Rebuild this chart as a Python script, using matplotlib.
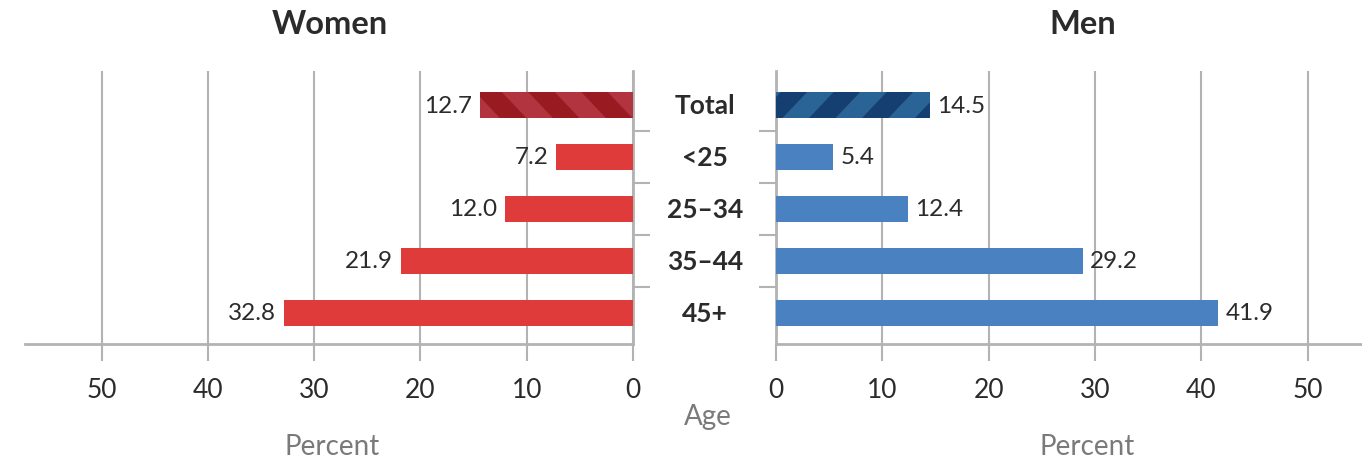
import matplotlib
matplotlib.use("Agg")
import matplotlib.pyplot as plt
from matplotlib.patches import Polygon
from matplotlib.transforms import IdentityTransform

plt.rcParams['font.family'] = ['Lato', 'DejaVu Sans']

categories = ['Total', '<25', '25–34', '35–44', '45+']
women_values = [14.4, 7.2, 12.0, 21.85, 32.8]
women_labels = ['12.7', '7.2', '12.0', '21.9', '32.8']
men_values = [14.45, 5.4, 12.4, 28.85, 41.6]
men_labels = ['14.5', '5.4', '12.4', '29.2', '41.9']
x_ticks = [0, 10, 20, 30, 40, 50]

W, H = 1362, 460
fig = plt.figure(figsize=(W / 100, H / 100), dpi=100)

grid_c = '#b3b3b3'
text_c = '#2b2b2b'
gray_c = '#7a7a7a'

def fx(px):
    return px / W

def fy(py):
    return 1 - py / H

top, bot = 72, 345
axL = fig.add_axes([fx(25), fy(bot), fx(633 - 25), (bot - top) / H])
axR = fig.add_axes([fx(776), fy(bot), fx(1362 - 776), (bot - top) / H])

pos = list(range(len(categories)))

barsL = axL.barh(pos, women_values, height=0.5, color='#df3b3b', zorder=3)
barsR = axR.barh(pos, men_values, height=0.5, color='#4a81c0', zorder=3)
barsL[0].set_facecolor('#b1343f')
barsR[0].set_facecolor('#2a6496')

axL.set_xlim(57.2, 0)
axR.set_xlim(0, 55.1)
for ax in (axL, axR):
    ax.set_ylim(4.6, -0.655)
    ax.set_xticks(x_ticks)
    ax.set_xticklabels([str(t) for t in x_ticks], fontsize=19, color=text_c)
    ax.grid(axis='x', color=grid_c, linewidth=1.5, zorder=0)
    ax.set_yticks([0.5, 1.5, 2.5, 3.5])
    ax.set_yticklabels([])
    ax.tick_params(axis='x', length=12, width=1.5, color=grid_c, pad=12)
    ax.tick_params(axis='y', length=12, width=1.5, color=grid_c)
    for s in ax.spines.values():
        s.set_color(grid_c)
        s.set_linewidth(2)
    ax.spines['top'].set_visible(False)

axL.spines['left'].set_visible(False)
axL.yaxis.tick_right()
axR.spines['right'].set_visible(False)
axR.yaxis.tick_left()

for i, (v, lab) in enumerate(zip(women_values, women_labels)):
    axL.annotate(lab, (v, i), xytext=(-6, 0), textcoords='offset points',
                 ha='right', va='center', fontsize=17.5, color=text_c)
for i, (v, lab) in enumerate(zip(men_values, men_labels)):
    axR.annotate(lab, (v, i), xytext=(5, 0), textcoords='offset points',
                 ha='left', va='center', fontsize=17.5, color=text_c)

# category labels centred between the two panels
for i, c in enumerate(categories):
    axL.annotate(c, (0, i), xycoords=('data', 'data'), xytext=(fx(705), 0),
                 textcoords=('figure fraction', 'offset points'),
                 ha='center', va='center', fontsize=19, fontweight='bold', color=text_c)

fig.text(fx(330), fy(25), 'Women', ha='center', va='center', fontsize=23.5, fontweight='bold', color=text_c)
fig.text(fx(1083), fy(25), 'Men', ha='center', va='center', fontsize=23.5, fontweight='bold', color=text_c)
fig.text(fx(332), fy(447), 'Percent', ha='center', va='center', fontsize=20, color=gray_c)
fig.text(fx(1087), fy(447), 'Percent', ha='center', va='center', fontsize=20, color=gray_c)
fig.text(fx(708), fy(417), 'Age', ha='center', va='center', fontsize=20, color=gray_c)

# diagonal stripes on the Total bars
fig.canvas.draw()

def stripes(ax, bar, color, slope, phase):
    bb = bar.get_window_extent()
    x0, x1, y0, y1 = bb.x0, bb.x1, bb.y0, bb.y1
    h = y1 - y0
    period, sw = 53.0, 26.5
    shift = h * 0.95 * slope
    start = x0 - period * 2 + phase
    x = start
    while x < x1 + period:
        poly = Polygon([(x, y0), (x + sw, y0), (x + sw + shift, y1), (x + shift, y1)],
                       closed=True, facecolor=color, edgecolor='none',
                       transform=IdentityTransform(), zorder=4)
        ax.add_artist(poly)
        poly.set_clip_path(bar)
        x += period

stripes(axL, barsL[0], '#9a1a21', -1, 20)
stripes(axR, barsR[0], '#143f70', 1, -20)

fig.savefig('out.png', dpi=100)
